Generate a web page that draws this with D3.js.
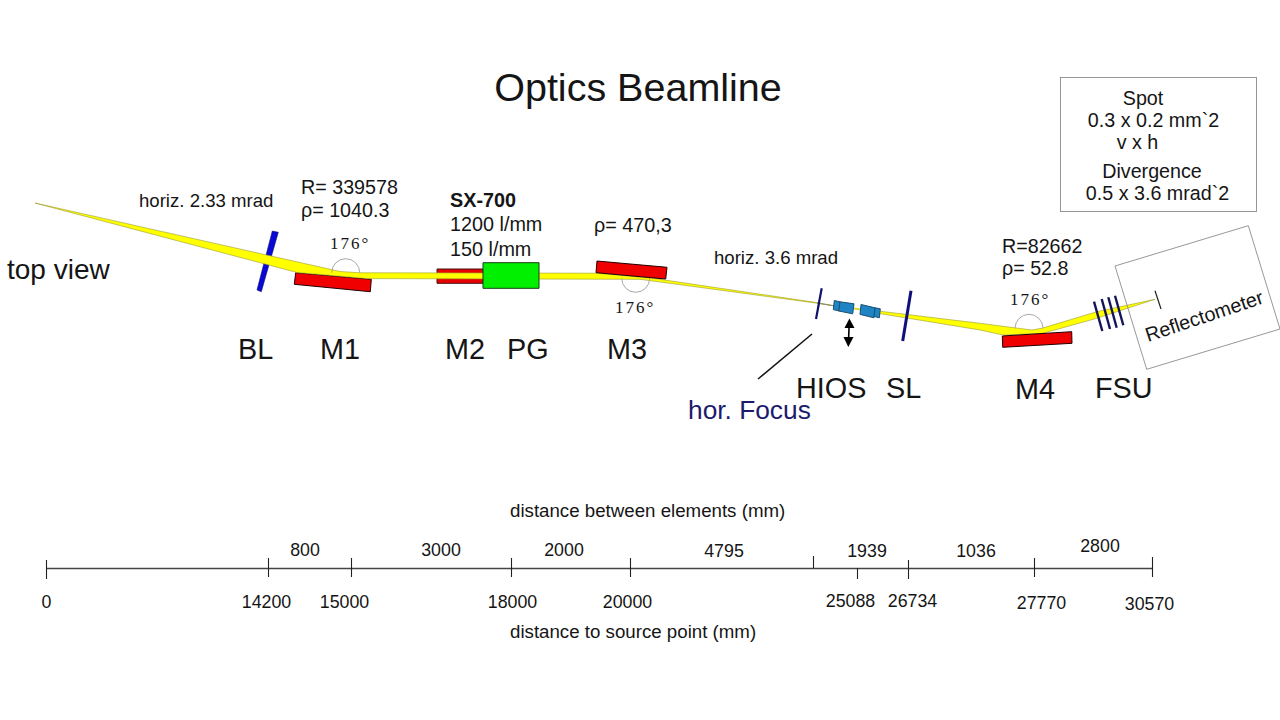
<!DOCTYPE html>
<html><head><meta charset="utf-8"><title>Optics Beamline</title>
<script src="https://cdn.jsdelivr.net/npm/d3@7/dist/d3.min.js"></script>
<style>html,body{margin:0;padding:0;background:#fff}svg{display:block}text{font-family:"Liberation Sans",Arial,sans-serif;fill:#151515}</style>
</head><body><svg id="c" width="1280" height="720"></svg>
<script>
// ---- data ----
const sourceDistances = [0,14200,15000,18000,20000,24795,25088,26734,27770,30570];
const sourceLabels = ["0","14200","15000","18000","20000","","25088","26734","27770","30570"];
const gapValues = ["800","3000","2000","4795","1939","1036","2800"];
const elementNames = ["BL","M1","M2","PG","M3","HIOS","SL","M4","FSU"];
const deflectionAngles = ["176°","176°","176°"];
const spotLines = ["Spot","0.3 x 0.2 mm`2","v x h","Divergence","0.5 x 3.6 mrad`2"];

// ---- layout ----
const svg = d3.select("#c");
const tickX = [46,268,351,511,630,813,857,908,1034,1152];
const xDist = d3.scaleLinear().domain(sourceDistances).range(tickX);
const line = d3.line().curve(d3.curveLinearClosed);
const poly = (pts,fill,stroke,w)=>svg.append("path").attr("d",line(pts)).attr("fill",fill).attr("stroke",stroke).attr("stroke-width",w);
const seg = (a,b,stroke,w)=>svg.append("line").attr("x1",a[0]).attr("y1",a[1]).attr("x2",b[0]).attr("y2",b[1]).attr("stroke",stroke).attr("stroke-width",w);
const txt = (s,x,y,size,o={})=>{const t=svg.append("text").attr("x",x).attr("y",y).attr("font-size",size).attr("text-anchor",o.anchor||"start").text(s);
  if(o.weight)t.attr("font-weight",o.weight); if(o.fill)t.style("fill",o.fill); if(o.font)t.style("font-family",o.font); if(o.ls)t.attr("letter-spacing",o.ls); if(o.rot)t.attr("transform",`rotate(${o.rot} ${x} ${y})`); return t;};

// beamline geometry (drawn back to front)
poly([[272.3,231],[278.3,232.3],[261.3,291.7],[257,290]],"#0808d8","#101060",.6);
poly([[437,269],[483,269],[483,283.3],[437,283.3]],"#e80000","#4a1010",1);
poly([[295.7,272.7],[371.3,279.3],[370.3,291.7],[294.3,284.3]],"#f00000","#200000",1);
poly([[35,203],[340,271.5],[360,272.8],[597,273.2],[653,278.3],[817,302.6],[835,306],[817,303.2],[640,279.3],[367,278.6],[297,272.5]],"#ffff00","#9a9a30",.6);
seg([817,303],[835,306],"#8a8a70",1);
seg([854,308.6],[861,309.4],"#d8d840",2);
poly([[878,311],[980,323.3],[1031.7,330],[1041.7,328.3],[1097,311.7],[1155,299.3],[1096.7,318.3],[1043,333.3],[1003,335],[980,330],[878,313.3]],"#ffff00","#9a9a30",.6);
poly([[483,262.7],[539,262.7],[539,288.3],[483,288.3]],"#00f000","#143c14",1);
poly([[597,261],[667,267.3],[665.7,279],[596,272.7]],"#f00000","#200000",1);
poly([[1002.3,336],[1071.7,331.7],[1072,343.3],[1002.7,347.3]],"#f00000","#200000",1);

// deflection arcs
[[345.7,272.7,true],[635.7,278.3,false],[1029,328.3,true]].forEach(([cx,cy,up])=>{
  const p=d3.path(); p.arc(cx,cy,14,up?Math.PI:0,up?2*Math.PI:Math.PI);
  svg.append("path").attr("d",p.toString()).attr("fill","none").attr("stroke","#a8a8a8").attr("stroke-width",1);
});

// slits, HIOS, FSU, detector
seg([821.7,288.3],[816,319],"#10106e",2.2);
seg([911,290.7],[902.7,341],"#10107a",3);
[[[834.3,300.5],[840,301.8],[839.3,311],[833.3,309.6]],[[840,301.8],[854,303.8],[852.7,313.8],[838.7,311]],
 [[861,304.5],[875,307.8],[874,317.8],[860,314.4]],[[875,307.8],[880.3,308.8],[879.3,317.8],[874,316.4]]]
 .forEach(p=>poly(p,"#1f84c4","#1a5070",1));
[[[1094,301.7],[1102.3,331]],[[1101.7,299],[1110,329]],[[1108.3,297.3],[1116.7,327.7]],[[1115,295.7],[1123.3,325.3]]]
 .forEach(([a,b])=>seg(a,b,"#14145a",2.4));
seg([1155,290.7],[1161,309],"#222",1.2);
svg.append("path").attr("fill","none").attr("stroke","#8c8c8c").attr("stroke-width",.9)
  .attr("d",line([[1115,266],[1248.3,225.7],[1280,329],[1146.7,369.3]]));
svg.append("rect").attr("x",1060.5).attr("y",77.5).attr("width",196).attr("height",134).attr("fill","none").attr("stroke","#8c8c8c").attr("stroke-width",.9);

// hor. focus leader & HIOS arrow
seg([758,379],[812,334],"#111",1.5);
seg([849.2,323],[848.5,342],"#000",1.6);
poly([[849.4,318.5],[854.5,328],[844.5,328]],"#000","none",0);
poly([[848.3,347],[843.5,337],[853.5,337]],"#000","none",0);

// texts
txt("Optics Beamline",638,101,39.5,{anchor:"middle"});
txt("top view",7,279,28);
txt("horiz. 2.33 mrad",139,207,18.6);
txt("R= 339578",301,193.5,19.7);
txt("ρ= 1040.3",301,216.5,19.7);
txt("SX-700",450,206.5,19.8,{weight:"bold"});
txt("1200 l/mm",450,230.5,19.8);
txt("150 l/mm",450,255.5,19.8);
txt("ρ= 470,3",594,231.5,19.8);
txt("horiz. 3.6 mrad",714,264,18.6);
txt("R=82662",1002,252.5,19.7);
txt("ρ= 52.8",1002,274.5,19.7);
[[330,249],[615,313],[1010,305]].forEach(([x,y],i)=>txt(deflectionAngles[i],x,y,17,{font:'"Liberation Serif",serif',ls:2}));
[[238,359],[320,359],[445,359],[507,359],[607,359],[796,398],[886,398],[1015,399],[1095,398]]
  .forEach(([x,y],i)=>txt(elementNames[i],x,y,28.8));
txt("hor. Focus",688,419,26.3,{fill:"#1c1a6c"});
txt("Reflectometer",1148,342,19.8,{rot:-18.5});
[[1143,104.5],[1153.5,126.5],[1137.5,148.5],[1152,177.5],[1157.5,199.5]].forEach(([x,y],i)=>txt(spotLines[i],x,y,19.7,{anchor:"middle"}));

// distance axis
const axis = d3.axisBottom(xDist).tickValues(sourceDistances).tickSize(0).tickSizeOuter(0).tickFormat((d,i)=>sourceLabels[i]);
const ax = svg.append("g").attr("transform","translate(0,568)").call(axis);
ax.select(".domain").attr("stroke","#444").attr("stroke-width",1.4);
const tickUp=[8,10,10,10,10,12,0,8,10,11], tickDown=[11,9,9,9,9,0,11,11,9,9];
const labelX=[46,266,344,512,627,0,850,912,1041,1149], labelY=[607.5,607.5,607.5,607.5,607.5,0,606.5,606.5,608.5,609.5];
ax.selectAll(".tick").each(function(d,i){
  const g=d3.select(this);
  g.select("line").attr("y1",-tickUp[i]).attr("y2",tickDown[i]).attr("stroke","#222").attr("stroke-width",1.1);
  g.select("text").attr("font-size",17.8).attr("font-family",null).attr("dy",null).attr("y",labelY[i]-568).attr("x",labelX[i]-xDist(d)).attr("text-anchor","middle").style("fill","#151515");
});
const gapX=[305,441,564,724,867,976,1100], gapY=[555.5,555.5,555.5,556.5,556.5,556.5,551.5];
gapValues.forEach((v,i)=>txt(v,gapX[i],gapY[i],17.8,{anchor:"middle"}));
txt("distance between elements (mm)",510,517,18.7);
txt("distance to source point (mm)",510,638,18.7);
</script></body></html>
